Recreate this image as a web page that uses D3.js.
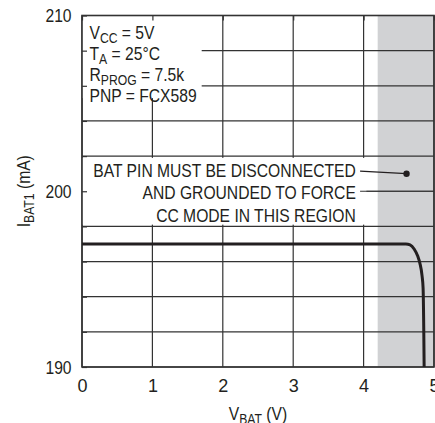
<!DOCTYPE html>
<html>
<head>
<meta charset="utf-8">
<script src="https://cdn.jsdelivr.net/npm/d3@7"></script>
<style>
  body { margin: 0; background: #fff; }
  svg text { font-family: "Liberation Sans", Arial, sans-serif; fill: #231f20; }
</style>
</head>
<body>
<div id="chart"></div>
<script>
// chart values
var xTicks = [0, 1, 2, 3, 4, 5];
var yTickLabels = [190, 200, 210];
var yGrid = [190, 192, 194, 196, 198, 200, 202, 204, 206, 208, 210];
var shadeRange = [4.2, 5];

// battery current vs battery voltage
var vbat = [0, 1, 2, 3, 4, 4.5, 4.6, 4.66, 4.72, 4.77, 4.8, 4.83, 4.845, 4.855, 4.86];
var ibat = [197, 197, 197, 197, 197, 197, 197, 196.95, 196.7, 196.3, 195.9, 195.2, 194.5, 192, 190];

var condLines = [["V", "CC", " = 5V"], ["T", "A", " = 25°C"], ["R", "PROG", " = 7.5k"], ["PNP = FCX589", "", ""]];
var noteLines = ["BAT PIN MUST BE DISCONNECTED", "AND GROUNDED TO FORCE", "CC MODE IN THIS REGION"];
var notePoint = { v: 4.61, i: 201.0 };

var sx = 0.87; // condensed look

var margin = { top: 15.5, right: 1, bottom: 56, left: 82 },
  width = 435 - margin.left - margin.right,
  height = 423 - margin.top - margin.bottom;

var svg = d3.select("#chart")
  .append("svg")
  .attr("width", 435)
  .attr("height", 423)
  .append("g")
  .attr("transform", "translate(" + margin.left + "," + margin.top + ")");

var x = d3.scaleLinear().domain([0, 5]).range([0, width]);
var y = d3.scaleLinear().domain([190, 210]).range([height, 0]);

// text with a subscript part, squeezed horizontally
function label(parent, px, py, anchor, parts, rot) {
  var g = parent.append("g")
    .attr("transform", "translate(" + px + "," + py + ")" + (rot ? " rotate(" + rot + ")" : "") + " scale(" + sx + ",1)");
  var t = g.append("text")
    .attr("text-anchor", anchor)
    .style("font-size", "18px");
  t.append("tspan").text(parts[0]);
  if (parts[1]) {
    t.append("tspan").attr("dy", 4).style("font-size", "14px").text(parts[1]);
    t.append("tspan").attr("dy", -4).text(parts[2]);
  }
  return g;
}

// shaded region
svg.append("rect")
  .attr("x", x(shadeRange[0]))
  .attr("y", 0)
  .attr("width", x(shadeRange[1]) - x(shadeRange[0]))
  .attr("height", height)
  .style("fill", "#d1d2d4");

// grid
svg.selectAll(".vgrid")
  .data(xTicks).enter()
  .append("line")
  .attr("x1", function (d) { return x(d); })
  .attr("x2", function (d) { return x(d); })
  .attr("y1", 0)
  .attr("y2", height)
  .style("stroke", "#333")
  .style("stroke-width", 1.2);

svg.selectAll(".hgrid")
  .data(yGrid).enter()
  .append("line")
  .attr("x1", 0)
  .attr("x2", width)
  .attr("y1", function (d) { return y(d); })
  .attr("y2", function (d) { return y(d); })
  .style("stroke", "#333")
  .style("stroke-width", 1.2);

// white boxes behind the notes
svg.append("rect")
  .attr("x", 0).attr("y", 0)
  .attr("width", x(1.7)).attr("height", y(205.3))
  .style("fill", "#fff");

svg.append("rect")
  .attr("x", 0).attr("y", y(201.9))
  .attr("width", x(4.04)).attr("height", y(198.1) - y(201.9))
  .style("fill", "#fff");

svg.append("line")
  .attr("x1", x(3.95)).attr("x2", width)
  .attr("y1", y(200)).attr("y2", y(200))
  .style("stroke", "#333")
  .style("stroke-width", 1.2);

// axes (inward ticks)
var yAxis = svg.append("g")
  .call(d3.axisLeft(y).tickValues(yGrid).tickSize(-5).tickPadding(12)
    .tickFormat(function (d) { return yTickLabels.indexOf(d) >= 0 ? d : ""; }));
yAxis.select(".domain").remove();
yAxis.selectAll("line").style("stroke", "#333").style("stroke-width", 1.2);
yAxis.selectAll("text").style("font-size", "18px").attr("dy", "0.36em")
  .attr("transform", "scale(" + sx + ",1)");

var xAxis = svg.append("g")
  .attr("transform", "translate(0," + height + ")")
  .call(d3.axisBottom(x).tickValues(xTicks).tickSize(0).tickPadding(11).tickFormat(d3.format("d")));
xAxis.select(".domain").remove();
xAxis.selectAll("text").style("font-size", "18px").attr("dy", "0.75em");

var topAxis = svg.append("g")
  .call(d3.axisTop(x).tickValues(xTicks).tickSize(-5).tickFormat(""));
topAxis.select(".domain").remove();
topAxis.selectAll("line").style("stroke", "#333").style("stroke-width", 1.2);

// frame
svg.append("rect")
  .attr("width", width).attr("height", height)
  .style("fill", "none")
  .style("stroke", "#333")
  .style("stroke-width", 1.6);

// curve
var line = d3.line()
  .x(function (d) { return x(d[0]); })
  .y(function (d) { return y(d[1]); })
  .curve(d3.curveMonotoneX);

svg.append("path")
  .datum(d3.zip(vbat, ibat))
  .attr("d", line)
  .style("fill", "none")
  .style("stroke", "#231f20")
  .style("stroke-width", 3);

// conditions text
condLines.forEach(function (d, i) {
  label(svg, 7.5, 23.3 + i * 20.9, "start", d);
});

// note text
noteLines.forEach(function (d, i) {
  label(svg, x(3.89), y(200.8) + i * 22.2, "end", [d]);
});

svg.append("line")
  .attr("x1", x(3.95)).attr("y1", y(201.15))
  .attr("x2", x(notePoint.v)).attr("y2", y(notePoint.i))
  .style("stroke", "#231f20")
  .style("stroke-width", 1.2);

svg.append("circle")
  .attr("cx", x(notePoint.v)).attr("cy", y(notePoint.i))
  .attr("r", 3.2)
  .style("fill", "#231f20");

// axis titles
label(svg, width / 2, height + 53, "middle", ["V", "BAT", " (V)"]);
label(svg, -52, height / 2, "middle", ["I", "BAT1", " (mA)"], -90);
</script>
</body>
</html>
